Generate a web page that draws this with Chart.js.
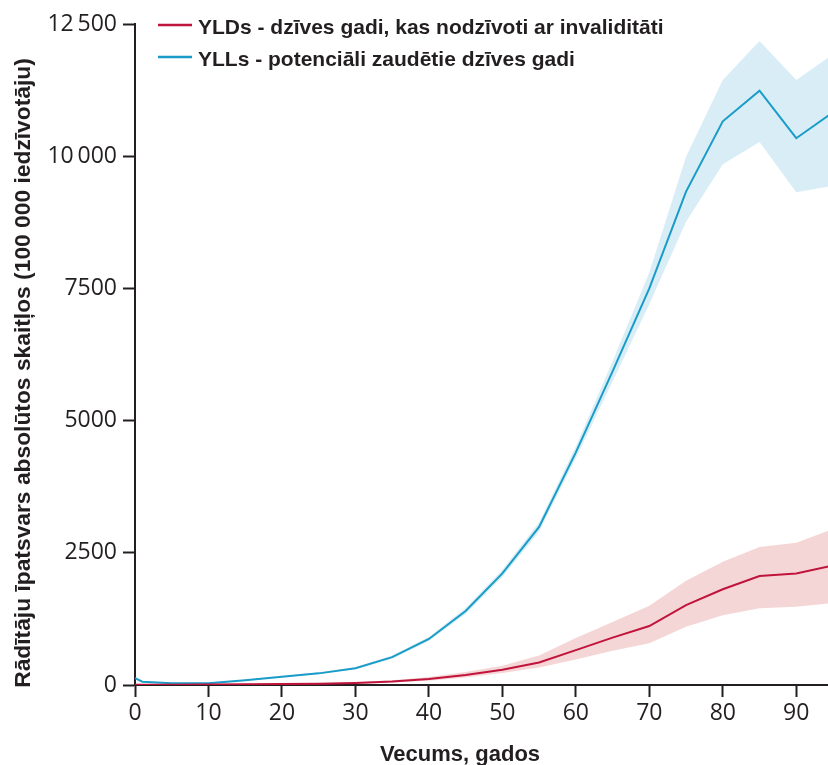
<!DOCTYPE html>
<html>
<head>
<meta charset="utf-8">
<script src="https://cdn.jsdelivr.net/npm/chart.js@4/dist/chart.umd.min.js"></script>
<style>
  html, body { margin: 0; padding: 0; background: #fff; overflow: hidden; }
  #wrap { position: relative; width: 833px; height: 765px; }
</style>
</head>
<body>
<div id="wrap"><canvas id="c"></canvas></div>
<script>
// ---- data ----
const ages = [0, 1, 5, 10, 15, 20, 25, 30, 35, 40, 45, 50, 55, 60, 65, 70, 75, 80, 85, 90, 95];

const yllValues = [130, 62, 33, 32, 90, 157, 220, 318, 527, 870, 1400, 2110, 2990, 4400, 5930, 7500, 9330, 10660, 11240, 10340, 10830];
const yllLower  = [120, 56, 29, 28, 82, 146, 205, 298, 497, 830, 1345, 2040, 2900, 4290, 5740, 7200, 8760, 9850, 10270, 9320, 9440];
const yllUpper  = [140, 68, 37, 36, 98, 168, 235, 338, 557, 910, 1455, 2180, 3080, 4510, 6120, 7800, 9990, 11440, 12180, 11440, 11930];

const yldValues = [5, 5, 6, 8, 12, 17, 24, 38, 65, 115, 190, 290, 425, 660, 895, 1115, 1510, 1810, 2060, 2110, 2260];
const yldLower  = [2, 2, 3, 5, 8, 11, 16, 25, 45, 82, 140, 225, 330, 480, 650, 790, 1100, 1320, 1450, 1480, 1550];
const yldUpper  = [8, 8, 9, 12, 16, 23, 32, 52, 88, 150, 245, 365, 560, 890, 1190, 1500, 1970, 2330, 2610, 2690, 2950];

const xTicks = [0, 10, 20, 30, 40, 50, 60, 70, 80, 90];
const yTicks = [0, 2500, 5000, 7500, 10000, 12500];
const yTickLabels = ['0', '2500', '5000', '7500', '10\u2009000', '12\u2009500'];

const seriesLabels = ['YLDs - dzīves gadi, kas nodzīvoti ar invaliditāti', 'YLLs - potenciāli zaudētie dzīves gadi'];
const xTitle = 'Vecums, gados';
const yTitle = 'Rādītāju īpatsvars absolūtos skaitļos (100 000 iedzīvotāju)';

// ---- styles ----
const RED = '#c0143c';
const RED_BAND = 'rgba(236, 180, 180, 0.55)';
const BLUE = '#1a9cc8';
const BLUE_BAND = 'rgba(190, 225, 240, 0.6)';
const INK = '#231f20';

const pts = (arr) => ages.map((a, i) => ({ x: a, y: arr[i] }));

const titlesAndLegend = {
  id: 'titlesAndLegend',
  afterDraw(chart) {
    const ctx = chart.ctx;
    ctx.save();
    ctx.fillStyle = INK;
    // x title
    ctx.font = 'bold 22px "Liberation Sans", Arial, sans-serif';
    ctx.textAlign = 'center';
    ctx.textBaseline = 'alphabetic';
    ctx.fillText(xTitle, 460, 761);
    // y title
    ctx.save();
    ctx.translate(30, 373);
    ctx.rotate(-Math.PI / 2);
    ctx.font = 'bold 22.8px "Liberation Sans", Arial, sans-serif';
    ctx.fillText(yTitle, 0, 0);
    ctx.restore();
    // legend
    const rows = [{ ds: 0, y: 25, base: 34 }, { ds: 1, y: 57, base: 66 }];
    ctx.font = 'bold 21px "Liberation Sans", Arial, sans-serif';
    ctx.textAlign = 'left';
    rows.forEach(r => {
      const ds = chart.data.datasets[r.ds];
      ctx.strokeStyle = ds.borderColor;
      ctx.lineWidth = 2.5;
      ctx.beginPath();
      ctx.moveTo(158, r.y);
      ctx.lineTo(192, r.y);
      ctx.stroke();
      ctx.fillStyle = INK;
      ctx.fillText(ds.label, 198, r.base);
    });
    ctx.restore();
  }
};

new Chart(document.getElementById('c'), {
  type: 'line',
  data: {
    datasets: [
      { label: seriesLabels[0], data: pts(yldValues), borderColor: RED, borderWidth: 2, pointRadius: 0, fill: false, tension: 0 },
      { label: seriesLabels[1], data: pts(yllValues), borderColor: BLUE, borderWidth: 2, pointRadius: 0, fill: false, tension: 0 },
      { label: 'YLD upper', data: pts(yldUpper), borderWidth: 0, borderColor: 'rgba(0,0,0,0)', backgroundColor: RED_BAND, pointRadius: 0, fill: { target: 3 }, tension: 0 },
      { label: 'YLD lower', data: pts(yldLower), borderWidth: 0, borderColor: 'rgba(0,0,0,0)', pointRadius: 0, fill: false, tension: 0 },
      { label: 'YLL upper', data: pts(yllUpper), borderWidth: 0, borderColor: 'rgba(0,0,0,0)', backgroundColor: BLUE_BAND, pointRadius: 0, fill: { target: 5 }, tension: 0 },
      { label: 'YLL lower', data: pts(yllLower), borderWidth: 0, borderColor: 'rgba(0,0,0,0)', pointRadius: 0, fill: false, tension: 0 }
    ]
  },
  options: {
    responsive: true,
    maintainAspectRatio: false,
    animation: false,
    layout: { padding: { top: 24, right: 0, bottom: 0, left: 0 } },
    plugins: { legend: { display: false }, tooltip: { enabled: false } },
    scales: {
      x: {
        type: 'linear',
        min: 0, max: 95,
        afterBuildTicks: (s) => { s.ticks = xTicks.map(v => ({ value: v })); },
        afterFit: (s) => { s.height = 80; },
        grid: { display: true, drawOnChartArea: false, drawTicks: true, tickLength: 12, tickWidth: 2, color: INK },
        border: { display: true, color: INK, width: 2 },
        ticks: { color: INK, padding: 3, maxRotation: 0, font: { family: '"Open Sans", sans-serif', size: 23 } }
      },
      y: {
        min: 0, max: 12500,
        afterBuildTicks: (s) => { s.ticks = yTicks.map(v => ({ value: v })); },
        afterFit: (s) => { s.width = 135; },
        grid: { display: true, drawOnChartArea: false, drawTicks: true, tickLength: 12, tickWidth: 2, color: INK },
        border: { display: true, color: INK, width: 2 },
        ticks: {
          color: INK, padding: 6,
          font: { family: '"Open Sans", sans-serif', size: 23 },
          callback: (v) => { const i = yTicks.indexOf(v); return i >= 0 ? yTickLabels[i] : ''; }
        }
      }
    }
  },
  plugins: [titlesAndLegend]
});
</script>
</body>
</html>
